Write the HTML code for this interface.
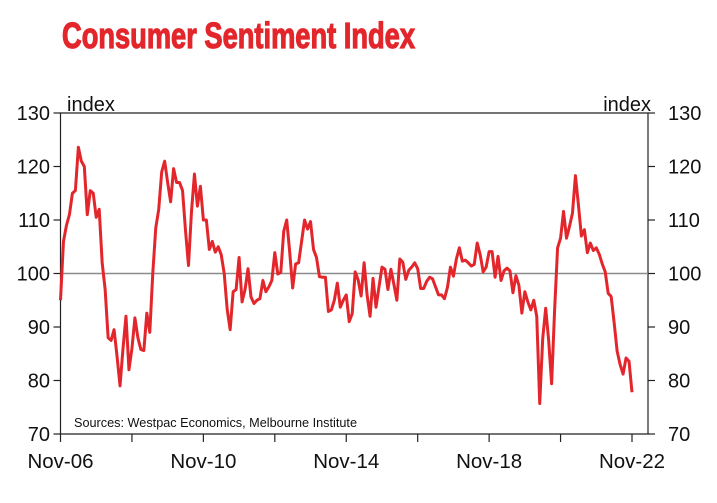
<!DOCTYPE html>
<html><head><meta charset="utf-8"><style>
html,body{margin:0;padding:0;background:#fff;}
svg{display:block;font-family:"Liberation Sans",sans-serif;}
</style></head><body>
<svg id="chart" width="717" height="503" viewBox="0 0 717 503">
<text x="62" y="48" font-size="36" font-weight="bold" fill="#e3262b" stroke="#e3262b" stroke-width="1.2" textLength="353" lengthAdjust="spacingAndGlyphs">Consumer Sentiment Index</text>
<g id="axes"></g>
<g id="series"></g>
<text x="67" y="111" font-size="20" fill="#111">index</text>
<text x="651" y="111" font-size="20" fill="#111" text-anchor="end">index</text>
<text x="74" y="427" font-size="13" fill="#111" textLength="283" lengthAdjust="spacingAndGlyphs">Sources: Westpac Economics, Melbourne Institute</text>
</svg>
<script>
const yTicks = [70, 80, 90, 100, 110, 120, 130];
const xTickLabels = ["Nov-06", "Nov-10", "Nov-14", "Nov-18", "Nov-22"];
const xTickMonths = [0, 48, 96, 144, 192];
const sentiment = [95,106,109,111,115,115.5,123.6,121,120,111,115.5,115,110.5,112,102,97,88,87.5,89.5,84.5,79,86,92,82,86,91.7,88,85.8,85.6,92.6,89,100,108.5,112,119,121,117,113.4,119.6,117,117,115.5,108,101.5,111.5,118.6,112.6,116.3,110,110,104.5,106,104,105,103.5,100,93.3,89.5,96.6,97,103,94.7,97,100.9,95.6,94.4,95,95.3,98.7,96.6,97.5,98.7,103.9,99.9,100.2,107.9,110,104,97.3,101.8,102,106,110,108.3,109.7,104.5,103,99.4,99.3,99.3,92.9,93.2,95,98.2,93.7,95,96,91,92.5,100.3,98.8,95.8,102,96,92,99.1,93.7,97.5,101.2,100.8,97,100.8,98,95,102.7,102.1,98.9,100.6,101.2,102,100.9,97.2,97.2,98.5,99.3,99,97.5,96,96,95.3,97.4,101.2,99.5,102.7,104.8,102.3,102.5,102,101.4,101.7,105.7,103.5,100.3,101.2,104.1,104.1,99.3,103.2,98.7,100.5,101,100.5,96.4,99.6,97.8,92.6,96.6,94.7,93.2,95,92,75.7,87.8,93.5,87.5,79.4,93.2,104.8,106.6,111.6,106.6,108.8,111.3,118.3,112.8,107,108.2,103.9,105.7,104.3,104.8,103.6,101.8,100.3,96.3,95.7,90.8,85.5,83,81.2,84.2,83.6,77.8];

const NS = "http://www.w3.org/2000/svg";
const X0 = 60.5, X1 = 632, XR = 648, YT = 113, YB = 434;
const xs = m => X0 + (X1 - X0) * m / 192;
const ys = v => YB - (v - 70) / 60 * (YB - YT);
function mk(tag, attrs, parent) {
  const e = document.createElementNS(NS, tag);
  for (const k in attrs) e.setAttribute(k, attrs[k]);
  parent.appendChild(e);
  return e;
}
const axes = document.getElementById("axes");
const series = document.getElementById("series");

const frame = mk("path", {d:`M${X0},${YB}V${YT}H${XR}V${YB}H${X0}`, fill:"none", stroke:"#222", "stroke-width":1.2}, axes);


const ref = mk("line", {x1:X0, x2:XR, y1:ys(100), y2:ys(100), stroke:"#8c8c8c", "stroke-width":1.5}, axes);



yTicks.forEach(v => {
  const y = ys(v);
  mk("line", {x1:X0-7, x2:X0, y1:y, y2:y, stroke:"#222", "stroke-width":1.2}, axes);
  mk("line", {x1:XR, x2:XR+7, y1:y, y2:y, stroke:"#222", "stroke-width":1.2}, axes);
  const tl = mk("text", {x:50, y:y+7, "font-size":20, fill:"#111", "text-anchor":"end"}, axes);
  tl.textContent = v;
  
  
  const tr = mk("text", {x:668, y:y+7, "font-size":20, fill:"#111"}, axes);
  tr.textContent = v;
  
  
});
for (let m = 0; m <= 192; m += 24) {
  mk("line", {x1:xs(m), x2:xs(m), y1:YB, y2:YB+8, stroke:"#222", "stroke-width":1.2}, axes);
}
xTickLabels.forEach((lab, i) => {
  const t = mk("text", {x:xs(xTickMonths[i]), y:468, "font-size":20.5, fill:"#111", "text-anchor":"middle"}, axes);
  t.textContent = lab;
  
  
});

const d = sentiment.map((v, i) => (i ? "L" : "M") + xs(i).toFixed(2) + "," + ys(v).toFixed(2)).join("");
const line = mk("path", {d:d, fill:"none", stroke:"#e3262b", "stroke-width":3, "stroke-linejoin":"round"}, series);


</script>
</body></html>
